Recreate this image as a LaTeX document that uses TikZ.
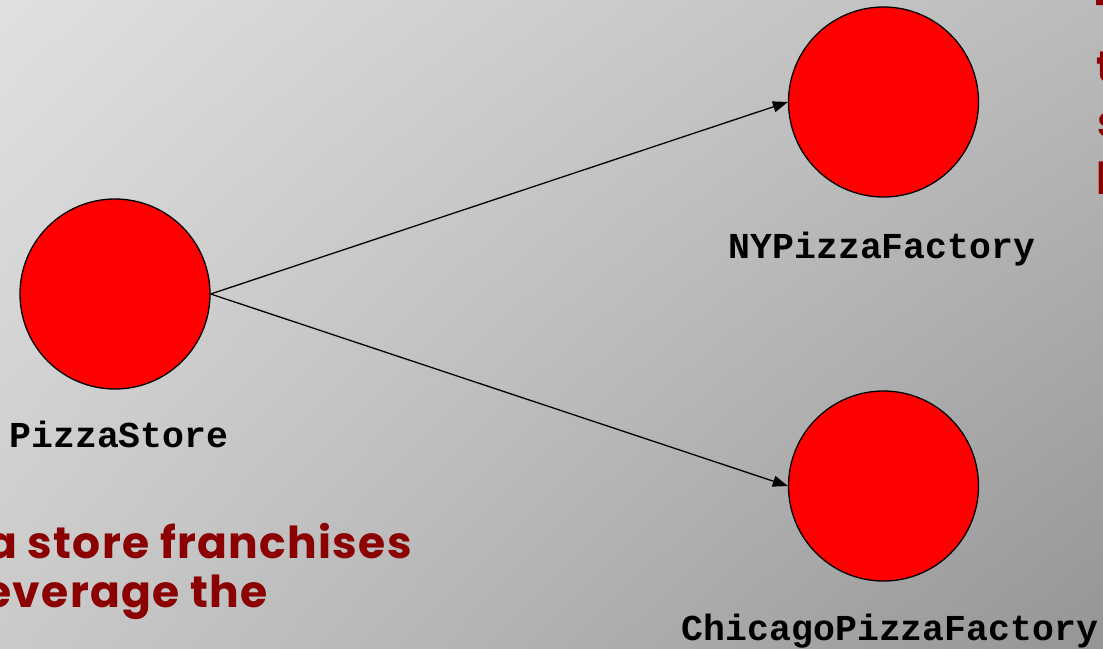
\documentclass[tikz,border=0pt]{standalone}
\usepackage{fontspec}
\usetikzlibrary{arrows.meta,shadings}
\newfontfamily\codefont{Liberation Mono}
\newfontfamily\notefont{Poppins}[LetterSpace=3]
\definecolor{notered}{RGB}{139,0,0}
\definecolor{bgtl}{RGB}{224,224,224}
\definecolor{bgtr}{RGB}{187,187,187}
\definecolor{bgbl}{RGB}{202,202,202}
\definecolor{bgbr}{RGB}{149,149,149}
\begin{document}
\begin{tikzpicture}[x=1pt,y=-1pt,
  classnode/.style={circle,draw=black,line width=1.3pt,fill=red,minimum size=190pt,inner sep=0pt},
  classlabel/.style={font=\codefont\bfseries\fontsize{36.5}{40}\selectfont,anchor=base,inner sep=0pt},
  notetext/.style={font=\notefont\bfseries\fontsize{44}{50}\selectfont,text=notered,inner sep=0pt},
  link/.style={-{Triangle[length=15pt,width=11pt]},line width=1.3pt}]
\useasboundingbox (0,0) rectangle (1103,648);
\begin{scope}
  \clip (0,0) rectangle (1103,648);
  % diagonal grey backdrop
  \shade[upper left=bgtl, upper right=bgtr, lower left=bgbl, lower right=bgbr]
    (0,0) rectangle (1103,648);

  % class nodes
  \node[classnode] (store) at (115,294) {};
  \node[classnode] (ny) at (883.5,102) {};
  \node[classnode] (chicago) at (883.5,486) {};

  % class names
  \node[classlabel] (storelbl) at (119,447) {PizzaStore};
  \node[classlabel] (nylbl) at (882,258) {NYPizzaFactory};
  \node[classlabel] (chilbl) at (890,640) {ChicagoPizzaFactory};

  % associations
  \draw[link] (store.east) -- (ny.west);
  \draw[link] (store.east) -- (chicago.west);

  % notes running past the edges
  \node[notetext,anchor=base east] (note1) at (412,558) {a store franchises};
  \node[notetext,anchor=base east] (note2) at (268,607) {everage the};
  \node[notetext,anchor=base west] (side1) at (1095,30) {T};
  \node[notetext,anchor=base west] (side2) at (1096,82) {t};
  \node[notetext,anchor=base west] (side3) at (1097,137) {s};
  \node[notetext,anchor=base west] (side4) at (1096,194) {l};
\end{scope}
\end{tikzpicture}
\end{document}
